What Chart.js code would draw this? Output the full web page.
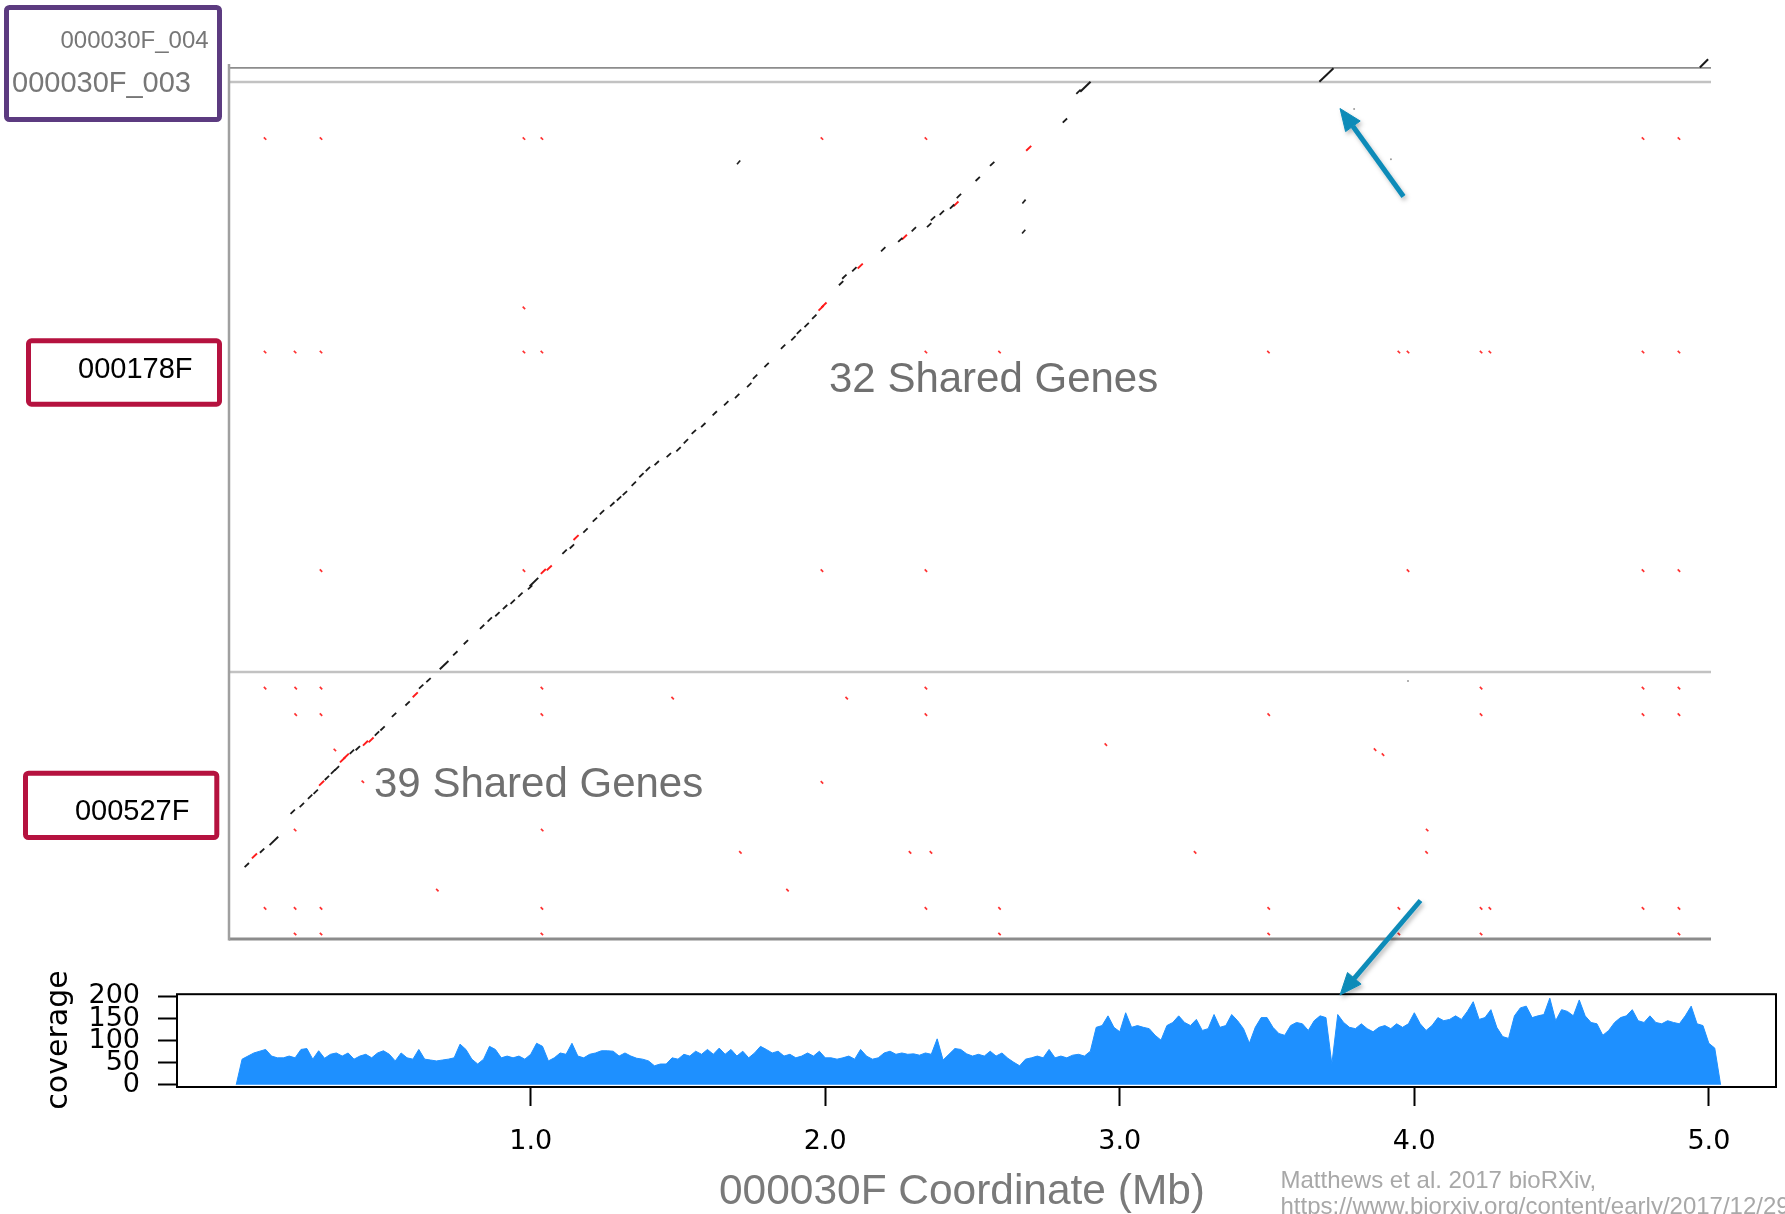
<!DOCTYPE html>
<html><head><meta charset="utf-8">
<script src="https://cdn.jsdelivr.net/npm/chart.js@4.4.1/dist/chart.umd.min.js"></script>
<style>
html,body{margin:0;padding:0;background:#fff;width:1785px;height:1214px;overflow:hidden;position:relative;}
#dot{position:absolute;left:220px;top:50px;}
#cov{position:absolute;left:0;top:960px;}
#ov{position:absolute;left:0;top:0;pointer-events:none;}
</style></head><body>
<canvas id="dot" width="1500" height="900"></canvas>
<canvas id="cov" width="1785" height="254"></canvas>
<svg id="ov" width="1785" height="1214" xmlns="http://www.w3.org/2000/svg">
  <defs>
    <filter id="sh" x="-20%" y="-20%" width="140%" height="140%">
      <feDropShadow dx="2" dy="3" stdDeviation="2" flood-color="#000" flood-opacity="0.25"/>
    </filter>
  </defs>
  <g font-family="Liberation Sans, Arial, sans-serif">
    <rect x="6.5" y="7.5" width="213" height="112" rx="3" fill="none" stroke="#5c3b80" stroke-width="5"/>
    <text x="208.6" y="48.3" font-size="24" fill="#777" text-anchor="end">000030F_004</text>
    <text x="12" y="91.7" font-size="29" fill="#777">000030F_003</text>
    <rect x="28.5" y="340.8" width="191" height="63.4" rx="3" fill="none" stroke="#b5123f" stroke-width="5"/>
    <text x="192.5" y="378.3" font-size="29" fill="#000" text-anchor="end">000178F</text>
    <rect x="25.5" y="773.2" width="191.3" height="64.3" rx="3" fill="none" stroke="#b5123f" stroke-width="5"/>
    <text x="189.4" y="820" font-size="29" fill="#000" text-anchor="end">000527F</text>
    <text x="829" y="391.7" font-size="42" fill="#707070">32 Shared Genes</text>
    <text x="374" y="796.7" font-size="42" fill="#707070">39 Shared Genes</text>
    <text x="962" y="1204" font-size="42" fill="#7a7a7a" text-anchor="middle" textLength="486" lengthAdjust="spacingAndGlyphs">000030F Coordinate (Mb)</text>
    <text x="1280.5" y="1188" font-size="24" fill="#a8a8a8">Matthews et al. 2017 bioRXiv,</text>
    <text x="1280.5" y="1214" font-size="24" fill="#a8a8a8">https://www.biorxiv.org/content/early/2017/12/29</text>
  </g>
  <text transform="translate(67,1040) rotate(-90)" font-family="DejaVu Sans" font-size="30" fill="#000" text-anchor="middle">coverage</text>
  <g filter="url(#sh)" fill="#0e8bb8" stroke="#0e8bb8">
    <line x1="1403.5" y1="196.5" x2="1352.9" y2="126.3" stroke-width="5"/>
    <polygon points="1340,108.5 1360.2,121.0 1345.6,131.6" stroke-width="1"/>
    <line x1="1420.5" y1="900.5" x2="1354.3" y2="978.3" stroke-width="5"/>
    <polygon points="1340,995 1361.1,984.1 1347.5,972.5" stroke-width="1"/>
  </g>
</svg>
<script>
// ---------- coverage track (000030F coordinate, Mb) ----------
const xTicks = [1, 2, 3, 4, 5];
const yTicks = [0, 50, 100, 150, 200];
const covStart = 0.0;
const covStep = 0.02;
const coverage = [
  0,58,65,72,76,80,65,61,61,65, 61,80,82,58,77,60,69,72,65,72,
  58,65,69,61,72,77,69,54,72,61, 58,80,58,56,54,56,58,61,92,80,
  58,47,58,87,80,61,65,61,65,58, 69,94,87,54,61,72,69,94,65,61,
  69,72,77,77,76,65,72,65,60,58, 54,43,47,47,61,58,69,65,76,69,
  80,69,83,69,80,65,76,61,72,87, 80,72,76,65,69,61,65,72,65,76,
  61,
  61,58,61,65,58,80,65,58,61,72, 76,69,72,69,70,67,72,69,104,56,
  69,82,80,70,65,69,65,76,65,72, 60,51,43,58,61,65,61,80,61,65,
  61,67,69,65,76,
  130,134,156,130,120,163,130,134,130,127, 112,101,134,141,156,141,134,148,123,127,
  159,130,134,159,145,127,94,130,152,152, 130,116,112,134,141,138,123,145,156,152,
  47,159,141,130,127,138,127,120,130,134,
  127,138,130,138,163,138,123,134,152,145, 148,156,148,166,188,148,152,170,130,109,
  105,156,174,178,152,156,159,196,145,170, 166,156,192,156,141,138,112,123,141,152,
  156,170,145,141,156,141,138,145,141,138, 156,178,138,134,94,83,0
];

// ---------- dot plot (x: 000030F Mb, y: stacked query contigs, Mb) ----------
const contigBounds = [0.907, 2.910, 2.958];   // 000527F | 000178F | 000030F_003 | 000030F_004
const axisTop = 2.971;
const blackDiag = [
  [0.037,0.251],[0.089,0.300],[0.193,0.432],[0.224,0.455],[0.252,0.483],[0.271,0.500],[0.309,0.547],
  [0.330,0.568],[0.343,0.580],[0.394,0.636],[0.414,0.648],[0.479,0.698],[0.498,0.715],[0.537,0.761],
  [0.583,0.800],[0.629,0.857],[0.654,0.879],[0.745,0.970],[0.781,1.008],[0.836,1.060],[0.862,1.085],
  [0.888,1.103],[0.914,1.127],[0.940,1.145],[0.966,1.169],[0.999,1.194],[1.116,1.315],[1.141,1.333],
  [1.187,1.387],[1.219,1.424],[1.243,1.449],[1.278,1.476],[1.301,1.496],[1.321,1.514],[1.351,1.546],
  [1.377,1.575],[1.399,1.596],[1.429,1.616],[1.470,1.643],[1.503,1.663],[1.528,1.690],[1.555,1.722],
  [1.587,1.745],[1.626,1.785],[1.665,1.819],[1.702,1.844],[1.743,1.881],[1.763,1.909],[1.802,1.949],
  [1.858,2.011],[1.893,2.040],[1.912,2.062],[1.938,2.085],[1.964,2.113],[2.055,2.227],[2.066,2.249],
  [2.100,2.274],[2.198,2.342],[2.256,2.374],[2.302,2.410],[2.354,2.424],[2.367,2.447],[2.397,2.466],
  [2.432,2.487],[2.455,2.523],[2.519,2.581],[2.568,2.632],[2.815,2.779],[2.861,2.877]
];
const blackDiagLong = [[0.129,0.333],[0.707,0.930],[1.012,1.212]];
const redDiag = [
  [0.063,0.282],[0.291,0.529],[0.362,0.608],[0.375,0.621],[0.440,0.665],[0.459,0.676],[0.609,0.829],
  [1.044,1.248],[1.064,1.260],[1.155,1.363],[1.987,2.142],[1.997,2.153],[2.120,2.285],[2.270,2.383],
  [2.445,2.496],[2.692,2.685]
];
const blackOff = [[1.707,2.637],[2.676,2.504],[2.675,2.402]];
const greyOff = [[3.797,2.818],[3.922,2.648],[3.980,0.876]];
const redOff = [
  [0.099,2.718],[0.289,2.718],[0.978,2.718],[1.039,2.718],[1.990,2.718],[2.343,2.718],[4.778,2.718],[4.900,2.718],
  [0.978,2.143],
  [0.099,1.993],[0.201,1.993],[0.289,1.993],[0.978,1.993],[1.039,1.993],[2.343,1.993],[2.593,1.993],
  [3.506,1.993],[3.949,1.993],[3.980,1.993],[4.228,1.993],[4.258,1.993],[4.778,1.993],[4.900,1.993],
  [0.289,1.251],[0.978,1.251],[1.990,1.251],[2.343,1.251],[3.980,1.251],[4.778,1.251],[4.900,1.251],
  [0.099,0.852],[0.203,0.852],[0.289,0.852],[1.039,0.852],[2.343,0.852],[4.228,0.852],[4.778,0.852],[4.900,0.852],
  [1.483,0.818],[2.074,0.818],
  [0.203,0.762],[0.289,0.762],[1.039,0.762],[2.343,0.762],[3.507,0.762],[4.228,0.762],[4.778,0.762],[4.900,0.762],
  [2.954,0.660],[3.868,0.643],[3.895,0.626],[1.990,0.532],[0.336,0.642],[0.431,0.534],
  [0.201,0.370],[1.040,0.370],[4.045,0.370],
  [1.713,0.294],[2.289,0.294],[2.360,0.294],[3.257,0.294],[4.043,0.294],
  [0.684,0.166],[1.873,0.166],
  [0.099,0.104],[0.201,0.104],[0.289,0.104],[1.039,0.104],[2.343,0.104],[2.593,0.104],[3.507,0.104],
  [3.949,0.104],[4.228,0.104],[4.258,0.104],[4.778,0.104],[4.900,0.104],
  [0.201,0.017],[0.289,0.017],[1.039,0.017],[2.593,0.017],[3.507,0.017],[3.949,0.017],[4.228,0.017],[4.900,0.017]
];
const segments = [
  [2.867,2.877,2.902,2.911],   // end of main diagonal (000178F)
  [3.679,2.911,3.727,2.957],   // 000030F_003
  [4.971,2.959,4.999,2.987]    // 000030F_004
];

const toPts = a => a.map(p => ({x: p[0], y: p[1]}));

const dotFrame = {
  id: 'dotFrame',
  beforeDatasetsDraw(chart) {
    const {ctx, scales: {x, y}} = chart;
    const line = (x1, y1, x2, y2, c, w) => {
      ctx.beginPath(); ctx.strokeStyle = c; ctx.lineWidth = w;
      ctx.moveTo(x1, y1); ctx.lineTo(x2, y2); ctx.stroke();
    };
    ctx.save();
    const L = x.getPixelForValue(x.min), R = x.getPixelForValue(x.max);
    const st = [['#c2c2c2', 2.5], ['#c2c2c2', 2.5], ['#8c8c8c', 1.6]];
    contigBounds.forEach((b, i) => { const py = y.getPixelForValue(b); line(L, py, R, py, st[i][0], st[i][1]); });
    const y0 = y.getPixelForValue(0);
    line(L, y0, R, y0, '#8c8c8c', 3);
    line(L, y.getPixelForValue(axisTop), L, y0 + 1.5, '#a0a0a0', 2.5);
    ctx.restore();
  }
};

const dotDatasets = [
  {data: toPts(redOff), pointStyle: 'line', rotation: 45, pointRadius: 1.7, borderColor: '#ff3030', borderWidth: 1.7},
  {data: toPts(greyOff), pointStyle: 'circle', pointRadius: 1, backgroundColor: '#9a9a9a', borderWidth: 0},
  {data: toPts(blackOff), pointStyle: 'line', rotation: -50, pointRadius: 2.5, borderColor: '#222', borderWidth: 1.7},
  {data: toPts(blackDiag), pointStyle: 'line', rotation: -44, pointRadius: 3, borderColor: '#1a1a1a', borderWidth: 1.8},
  {data: toPts(blackDiagLong), pointStyle: 'line', rotation: -44, pointRadius: 6, borderColor: '#1a1a1a', borderWidth: 1.9},
  {data: toPts(redDiag), pointStyle: 'line', rotation: -44, pointRadius: 3.5, borderColor: '#ff1a1a', borderWidth: 1.9}
].concat(segments.map(s => ({
  type: 'line', showLine: true, data: [{x: s[0], y: s[1]}, {x: s[2], y: s[3]}],
  borderColor: '#1a1a1a', borderWidth: 2, pointRadius: 0
})));

new Chart(document.getElementById('dot'), {
  type: 'scatter',
  data: {datasets: dotDatasets},
  options: {
    responsive: false, animation: false, events: [],
    layout: {autoPadding: false, padding: {left: 9, top: 6, right: 9, bottom: 11}},
    plugins: {legend: {display: false}, tooltip: {enabled: false}},
    scales: {
      x: {type: 'linear', display: false, min: -0.02343, max: 5.00883},
      y: {type: 'linear', display: false, min: 0, max: 2.9983}
    }
  },
  plugins: [dotFrame]
});

const covFrame = {
  id: 'covFrame',
  afterDraw(chart) {
    const {ctx, chartArea: a} = chart;
    ctx.save(); ctx.strokeStyle = '#000'; ctx.lineWidth = 2;
    ctx.strokeRect(a.left, a.top, a.right - a.left, a.bottom - a.top);
    ctx.restore();
  }
};

new Chart(document.getElementById('cov'), {
  type: 'line',
  data: {datasets: [{
    data: coverage.map((v, i) => ({x: covStart + i * covStep, y: v})),
    borderColor: '#1e90ff', backgroundColor: '#1e90ff', fill: 'origin',
    pointRadius: 0, borderWidth: 1, tension: 0
  }]},
  options: {
    responsive: false, animation: false, events: [],
    layout: {autoPadding: false, padding: {top: 31, right: 9, left: 0, bottom: 0}},
    plugins: {legend: {display: false}, tooltip: {enabled: false}},
    scales: {
      x: {
        type: 'linear', min: -0.201, max: 5.228,
        afterBuildTicks: s => { s.ticks = xTicks.map(v => ({value: v})); },
        afterFit: s => { s.height = 127; },
        ticks: {autoSkip: false, maxRotation: 0, padding: 20, color: '#000',
                font: {family: 'DejaVu Sans', size: 27}, callback: v => Number(v).toFixed(1)},
        grid: {drawOnChartArea: false, drawTicks: true, tickLength: 19, tickColor: '#000', tickWidth: 2},
        border: {display: false}
      },
      y: {
        type: 'linear', min: -5, max: 205,
        afterBuildTicks: s => { s.ticks = yTicks.map(v => ({value: v})); },
        afterFit: s => { s.width = 177; },
        ticks: {autoSkip: false, padding: 18, color: '#000', font: {family: 'DejaVu Sans', size: 27}},
        grid: {drawOnChartArea: false, drawTicks: true, tickLength: 19, tickColor: '#000', tickWidth: 2},
        border: {display: false}
      }
    }
  },
  plugins: [covFrame]
});
</script>
</body></html>
